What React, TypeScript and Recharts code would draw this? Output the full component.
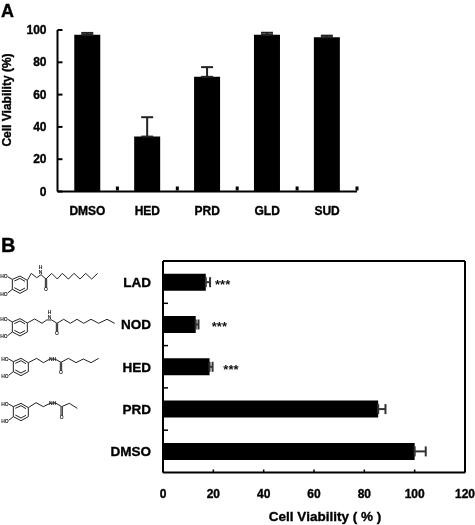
import React from 'react';
import {
  BarChart,
  Bar,
  XAxis,
  YAxis,
  ErrorBar,
  ReferenceDot,
} from 'recharts';

const FONT = '"Liberation Sans", Arial, sans-serif';

// panel A
const compoundsA = ['DMSO', 'HED', 'PRD', 'GLD', 'SUD'];
const viabilityA = [97, 34, 71, 97, 95.5];
const errorA = [1.2, 12, 6, 1.3, 1];
const ticksA = [0, 20, 40, 60, 80, 100];
const bandEdgesA = [1, 2, 3, 4, 5];

// panel B
const compoundsB = ['LAD', 'NOD', 'HED', 'PRD', 'DMSO'];
const viabilityB = [17, 13, 18.5, 85.5, 100];
const errorB = [1.7, 1.1, 1.2, 2.9, 4.4];
const starX = [23.7, 22.4, 27, null, null];
const ticksB = [0, 20, 40, 60, 80, 100, 120];
const bandEdgesB = [1, 2, 3, 4];

const dataA = compoundsA.map((name, i) => ({
  name,
  value: viabilityA[i],
  err: [0, errorA[i]],
  edge: i + 1,
}));
const dataB = compoundsB.map((name, i) => ({
  name,
  value: viabilityB[i],
  err: [0, errorB[i]],
  edge: i + 1,
}));

const frameLine = { stroke: '#000', strokeWidth: 2 };

// the edge axes get stacked outside the category axes, so pull their marks back
const CAT_AXIS_HEIGHT_A = 32.5;
const CAT_AXIS_WIDTH_B = 162;

const Label = ({ x, y, children, size = 12, anchor = 'middle' }: any) => (
  <text
    x={x}
    y={y}
    textAnchor={anchor}
    fontFamily={FONT}
    fontWeight="bold"
    fontSize={size}
    fill="#000"
    stroke="#000"
    strokeWidth={0.35}
  >
    {children}
  </text>
);

const TickA = ({ x, y, payload }: any) => (
  <g>
    <line x1={x} x2={x + 5} y1={y} y2={y} stroke="#000" strokeWidth={2} />
    <Label x={x - 11} y={y + 4} anchor="end">{payload.value}</Label>
  </g>
);

const TickBX = ({ x, y, payload }: any) => (
  <g>
    <line x1={x} x2={x} y1={y} y2={y - 3} stroke="#000" strokeWidth={1.5} />
    <Label x={x} y={y + 25}>{payload.value}</Label>
  </g>
);

const EdgeMarkA = ({ x, y }: any) => (
  <rect x={x - 1.5} y={y - CAT_AXIS_HEIGHT_A - 5} width={3} height={4} fill="#000" />
);

const EdgeMarkB = ({ x, y }: any) => (
  <line
    x1={x + CAT_AXIS_WIDTH_B}
    x2={x + CAT_AXIS_WIDTH_B + 5}
    y1={y}
    y2={y}
    stroke="#000"
    strokeWidth={1.5}
  />
);

const Stars = ({ cx, cy }: any) => (
  <text
    x={cx}
    y={cy + 7}
    textAnchor="middle"
    fontFamily={FONT}
    fontWeight="bold"
    fontSize={13}
    fill="#111"
  >
    ***
  </text>
);

// molecule sketches, in 3x units: ring, side chain, carbonyl, label spots
const RING = [
  [40, 35], [63, 25], [85, 38], [85, 65], [63, 77], [40, 65],
];
const molecules = [
  {
    top: 267.7,
    left: -1,
    chain: '85,38 97,17 113,30 126,21 141,34 158,17 175,34 190,17 208,34 225,17 243,34 260,17 278,34 296,17',
    carbonyl: [141, 34, 141, 60],
    nh: [125, 5],
  },
  {
    top: 310.3,
    left: -1,
    chain: '85,38 107,26 129,39 143,29 158,29 174,39 194,27 214,39 234,27 254,39 276,27 299,39 324,27 347,39',
    carbonyl: [174, 39, 174, 64],
    nh: [152, 12],
  },
  {
    top: 350,
    left: 0,
    chain: '85,38 110,25 130,38 150,27 165,27 183,37 205,25 228,38 250,27 273,38 296,25',
    carbonyl: [183, 37, 183, 62],
    nLabel: [158, 27],
  },
  {
    top: 395,
    left: 0,
    chain: '85,38 108,23 130,35 150,25 165,23 185,35 208,25 232,40',
    carbonyl: [185, 35, 185, 62],
    nLabel: [158, 25],
  },
];

const Molecule = ({ m }: any) => {
  const ring = RING.map((p) => p.join(',')).join(' ');
  const t = (s: string, x: number, y: number, key: string) => (
    <text
      key={key}
      x={x}
      y={y}
      textAnchor="middle"
      fontFamily={FONT}
      fontWeight="bold"
      fontSize={15}
      fill="#222"
    >
      {s}
    </text>
  );
  return (
    <g transform={`translate(${m.left},${m.top}) scale(${1 / 3})`}>
      <g fill="none" stroke="#222" strokeWidth={3}>
        <polygon points={ring} />
        <polyline points="46,40 63,32 78,41" />
        <polyline points="46,60 63,69 78,61" />
        <polyline points="40,35 26,27" />
        <polyline points="40,65 26,76" />
        <polyline points={m.chain} />
        <line x1={m.carbonyl[0] - 2} y1={m.carbonyl[1]} x2={m.carbonyl[2] - 2} y2={m.carbonyl[3]} />
        <line x1={m.carbonyl[0] + 2} y1={m.carbonyl[1]} x2={m.carbonyl[2] + 2} y2={m.carbonyl[3]} />
      </g>
      {t('HO', 15, 32, 'ho1')}
      {t('HO', 15, 84, 'ho2')}
      {t('O', m.carbonyl[2], m.carbonyl[3] + 10, 'o')}
      {m.nh ? t('H', m.nh[0], m.nh[1], 'h') : null}
      {m.nh ? t('N', m.nh[0], m.nh[1] + 14, 'n') : null}
      {m.nLabel ? t('NH', m.nLabel[0], m.nLabel[1] + 5, 'nh') : null}
    </g>
  );
};

const App = () => {
  return (
    <div
      style={{
        position: 'absolute',
        left: 0,
        top: 0,
        width: 475,
        height: 525,
        background: '#fff',
        overflow: 'hidden',
        filter: 'blur(0.4px)',
      }}
    >
      <div style={{ position: 'absolute', left: 0, top: 0 }}>
        <BarChart
          width={475}
          height={225}
          data={dataA}
          barCategoryGap="28%"
          margin={{ top: 30, right: 118, bottom: 0, left: 0 }}
        >
          <XAxis
            xAxisId="edges"
            type="number"
            dataKey="edge"
            domain={[0, 5]}
            allowDataOverflow
            ticks={bandEdgesA}
            height={1}
            axisLine={false}
            tickLine={false}
            tickSize={0}
            tickMargin={0}
            tick={<EdgeMarkA />}
            interval={0}
          />
          <XAxis
            xAxisId="cat"
            dataKey="name"
            height={CAT_AXIS_HEIGHT_A}
            axisLine={frameLine}
            tickLine={false}
            tickSize={0}
            tickMargin={0}
            tick={({ x, y, payload }: any) => <Label x={x} y={y + 23}>{payload.value}</Label>}
            interval={0}
          />
          <YAxis
            width={57.5}
            domain={[0, 100]}
            ticks={ticksA}
            axisLine={frameLine}
            tickLine={false}
            tickSize={0}
            tickMargin={0}
            tick={<TickA />}
            interval={0}
          />
          <Bar xAxisId="cat" dataKey="value" fill="#000" isAnimationActive={false}>
            <ErrorBar
              dataKey="err"
              direction="y"
              width={6}
              stroke="#222"
              strokeWidth={2}
              isAnimationActive={false}
            />
          </Bar>
        </BarChart>
      </div>

      <div style={{ position: 'absolute', left: 0, top: 230 }}>
        <BarChart
          width={475}
          height={295}
          layout="vertical"
          data={dataB}
          barCategoryGap="30%"
          margin={{ top: 30, right: 9, bottom: 0, left: 0 }}
        >
          <XAxis
            type="number"
            domain={[0, 120]}
            ticks={ticksB}
            height={52.5}
            axisLine={frameLine}
            tickLine={false}
            tickSize={0}
            tickMargin={0}
            tick={<TickBX />}
            interval={0}
          />
          <XAxis
            xAxisId="top"
            orientation="top"
            type="number"
            domain={[0, 120]}
            allowDataOverflow
            height={1}
            axisLine={frameLine}
            tick={false}
            tickLine={false}
          />
          <YAxis
            yAxisId="right"
            orientation="right"
            type="number"
            domain={[0, 5]}
            allowDataOverflow
            width={1}
            axisLine={frameLine}
            tick={false}
            tickLine={false}
          />
          <YAxis
            yAxisId="edges"
            type="number"
            dataKey="edge"
            domain={[0, 5]}
            allowDataOverflow
            ticks={bandEdgesB}
            width={1}
            axisLine={false}
            tickLine={false}
            tickSize={0}
            tickMargin={0}
            tick={<EdgeMarkB />}
            interval={0}
          />
          <YAxis
            yAxisId="cat"
            type="category"
            dataKey="name"
            width={CAT_AXIS_WIDTH_B}
            axisLine={frameLine}
            tickLine={false}
            tickSize={0}
            tickMargin={0}
            tick={({ x, y, payload }: any) => (
              <Label x={x - 12} y={y + 5} size={13.5} anchor="end">{payload.value}</Label>
            )}
            interval={0}
          />
          <Bar yAxisId="cat" dataKey="value" fill="#000" isAnimationActive={false}>
            <ErrorBar
              dataKey="err"
              direction="x"
              width={5}
              stroke="#333"
              strokeWidth={2}
              isAnimationActive={false}
            />
          </Bar>
          {compoundsB.map((name, i) =>
            starX[i] == null ? null : (
              <ReferenceDot
                key={name}
                yAxisId="cat"
                x={starX[i] as number}
                y={name}
                r={0}
                shape={<Stars />}
              />
            ),
          )}
        </BarChart>
      </div>

      <svg
        width={475}
        height={525}
        style={{ position: 'absolute', left: 0, top: 0, pointerEvents: 'none' }}
      >
        <Label x={1} y={16.5} size={18} anchor="start">A</Label>
        <Label x={1} y={252} size={20} anchor="start">B</Label>
        <g transform="translate(11,100) rotate(-90)">
          <Label x={0} y={0} size={12}>Cell Viability (%)</Label>
        </g>
        <Label x={325} y={521} size={13.5}>Cell Viability ( % )</Label>
        {molecules.map((m) => (
          <Molecule key={m.top} m={m} />
        ))}
      </svg>
    </div>
  );
};

export default App;
